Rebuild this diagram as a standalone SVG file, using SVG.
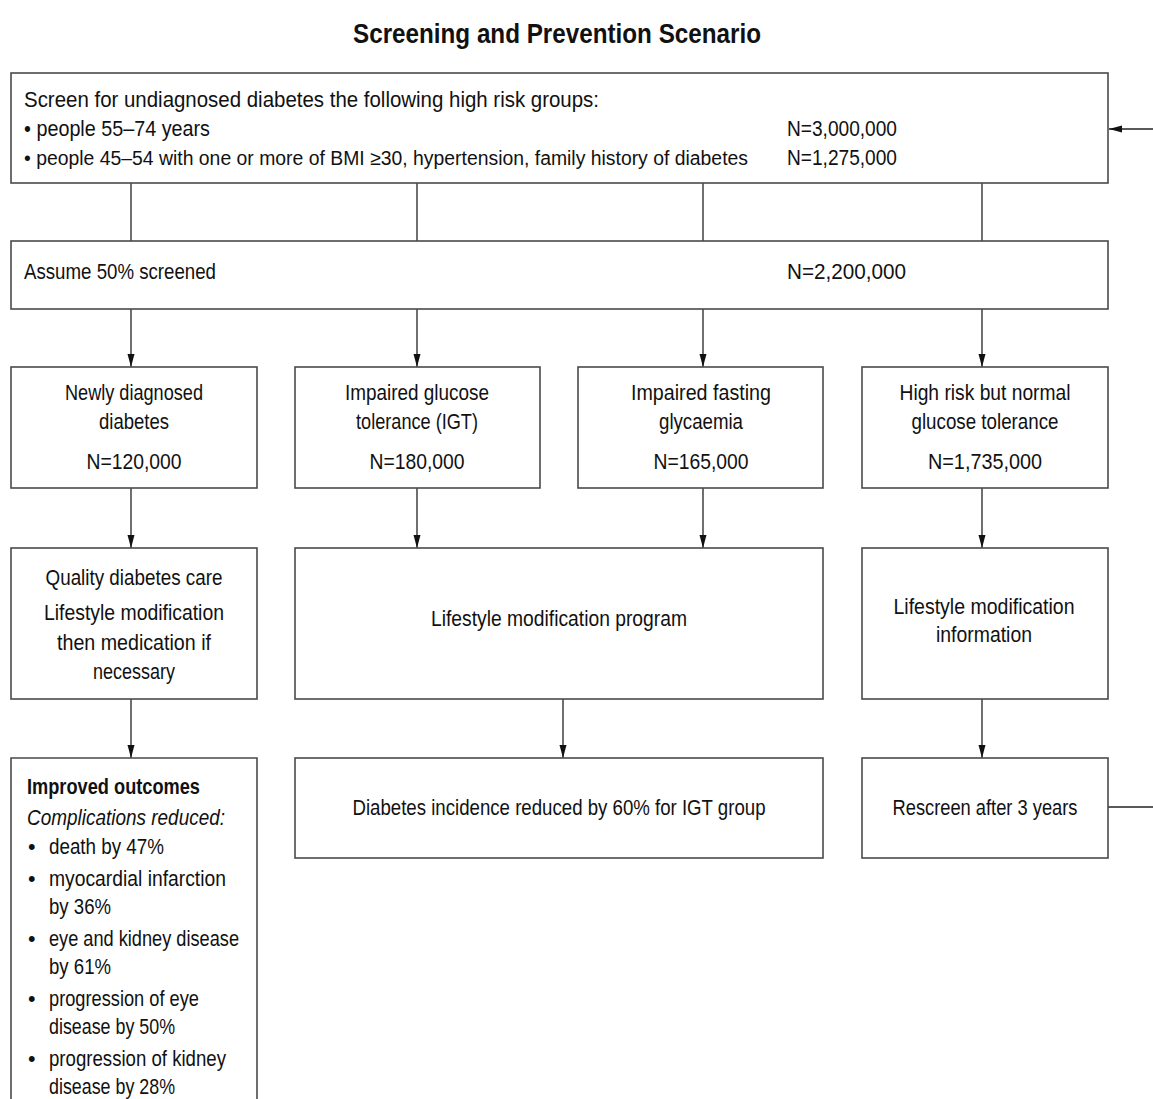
<svg xmlns="http://www.w3.org/2000/svg" width="1153" height="1099" viewBox="0 0 1153 1099">
<defs>
<marker id="ah" markerWidth="13" markerHeight="8" refX="13" refY="4" orient="auto" markerUnits="userSpaceOnUse">
<path d="M0,0.5 L13,4 L0,7.5 Z" fill="#111"/>
</marker>
<style>
.box{fill:#fff;stroke:#4a4a4a;stroke-width:1.6}
.ln{fill:none;stroke:#222;stroke-width:1.3}
.ar{fill:none;stroke:#222;stroke-width:1.3;marker-end:url(#ah)}
text{font-family:"Liberation Sans Narrow","Liberation Sans",Arial,sans-serif;font-size:21.5px;fill:#111}
.c{text-anchor:middle}
.b{font-weight:bold}
.i{font-style:italic}
.s{font-size:20px}
.t{font-size:28px;font-weight:bold}
</style>
</defs>
<rect width="1153" height="1099" fill="#fff"/>
<text class="t c" x="557" y="43" textLength="408" lengthAdjust="spacingAndGlyphs">Screening and Prevention Scenario</text>

<g id="connectors">
<line class="ln" x1="131" y1="183" x2="131" y2="241"/>
<line class="ln" x1="417" y1="183" x2="417" y2="241"/>
<line class="ln" x1="703" y1="183" x2="703" y2="241"/>
<line class="ln" x1="982" y1="183" x2="982" y2="241"/>
<line class="ar" x1="131" y1="309" x2="131" y2="367"/>
<line class="ar" x1="417" y1="309" x2="417" y2="367"/>
<line class="ar" x1="703" y1="309" x2="703" y2="367"/>
<line class="ar" x1="982" y1="309" x2="982" y2="367"/>
<line class="ar" x1="131" y1="488" x2="131" y2="548"/>
<line class="ar" x1="417" y1="488" x2="417" y2="548"/>
<line class="ar" x1="703" y1="488" x2="703" y2="548"/>
<line class="ar" x1="982" y1="488" x2="982" y2="548"/>
<line class="ar" x1="131" y1="699" x2="131" y2="758"/>
<line class="ar" x1="563" y1="699" x2="563" y2="758"/>
<line class="ar" x1="982" y1="699" x2="982" y2="758"/>
<line class="ar" x1="1153" y1="129" x2="1109" y2="129"/>
<line class="ln" x1="1108" y1="807" x2="1153" y2="807"/>
</g>

<g id="screen">
<rect class="box" x="11" y="73" width="1097" height="110"/>
<text x="24" y="107" textLength="575" lengthAdjust="spacingAndGlyphs">Screen for undiagnosed diabetes the following high risk groups:</text>
<text x="24" y="136" textLength="186" lengthAdjust="spacingAndGlyphs">• people 55–74 years</text>
<text class="s" x="24" y="165" textLength="724" lengthAdjust="spacingAndGlyphs">• people 45–54 with one or more of BMI  ≥30, hypertension, family history of diabetes</text>
<text x="787" y="136" textLength="110" lengthAdjust="spacingAndGlyphs">N=3,000,000</text>
<text x="787" y="165" textLength="110" lengthAdjust="spacingAndGlyphs">N=1,275,000</text>
</g>

<g id="screened">
<rect class="box" x="11" y="241" width="1097" height="68"/>
<text x="24" y="279" textLength="192" lengthAdjust="spacingAndGlyphs">Assume 50% screened</text>
<text x="787" y="279" textLength="119" lengthAdjust="spacingAndGlyphs">N=2,200,000</text>
</g>

<g id="newly">
<rect class="box" x="11" y="367" width="246" height="121"/>
<text class="c" x="134" y="400" textLength="138" lengthAdjust="spacingAndGlyphs">Newly diagnosed</text>
<text class="c" x="134" y="429" textLength="70" lengthAdjust="spacingAndGlyphs">diabetes</text>
<text class="c" x="134" y="469" textLength="95" lengthAdjust="spacingAndGlyphs">N=120,000</text>
</g>

<g id="igt">
<rect class="box" x="295" y="367" width="245" height="121"/>
<text class="c" x="417" y="400" textLength="144" lengthAdjust="spacingAndGlyphs">Impaired glucose</text>
<text class="c" x="417" y="429" textLength="122" lengthAdjust="spacingAndGlyphs">tolerance (IGT)</text>
<text class="c" x="417" y="469" textLength="95" lengthAdjust="spacingAndGlyphs">N=180,000</text>
</g>

<g id="ifg">
<rect class="box" x="578" y="367" width="245" height="121"/>
<text class="c" x="701" y="400" textLength="140" lengthAdjust="spacingAndGlyphs">Impaired fasting</text>
<text class="c" x="701" y="429" textLength="84" lengthAdjust="spacingAndGlyphs">glycaemia</text>
<text class="c" x="701" y="469" textLength="95" lengthAdjust="spacingAndGlyphs">N=165,000</text>
</g>

<g id="normal">
<rect class="box" x="862" y="367" width="246" height="121"/>
<text class="c" x="985" y="400" textLength="171" lengthAdjust="spacingAndGlyphs">High risk but normal</text>
<text class="c" x="985" y="429" textLength="147" lengthAdjust="spacingAndGlyphs">glucose tolerance</text>
<text class="c" x="985" y="469" textLength="114" lengthAdjust="spacingAndGlyphs">N=1,735,000</text>
</g>

<g id="care">
<rect class="box" x="11" y="548" width="246" height="151"/>
<text class="c" x="134" y="585" textLength="177" lengthAdjust="spacingAndGlyphs">Quality diabetes care</text>
<text class="c" x="134" y="620" textLength="180" lengthAdjust="spacingAndGlyphs">Lifestyle modification</text>
<text class="c" x="134" y="650" textLength="154" lengthAdjust="spacingAndGlyphs">then medication if</text>
<text class="c" x="134" y="679" textLength="82" lengthAdjust="spacingAndGlyphs">necessary</text>
</g>

<g id="program">
<rect class="box" x="295" y="548" width="528" height="151"/>
<text class="c" x="559" y="626" textLength="256" lengthAdjust="spacingAndGlyphs">Lifestyle modification program</text>
</g>

<g id="info">
<rect class="box" x="862" y="548" width="246" height="151"/>
<text class="c" x="984" y="614" textLength="181" lengthAdjust="spacingAndGlyphs">Lifestyle modification</text>
<text class="c" x="984" y="642" textLength="96" lengthAdjust="spacingAndGlyphs">information</text>
</g>

<g id="outcomes">
<path class="box" d="M11,1101 V758 H257 V1101"/>
<text class="b" x="27" y="794" textLength="173" lengthAdjust="spacingAndGlyphs">Improved outcomes</text>
<text class="i" x="27" y="825" textLength="198" lengthAdjust="spacingAndGlyphs">Complications reduced:</text>
<text x="28" y="854">•</text><text x="49" y="854" textLength="115" lengthAdjust="spacingAndGlyphs">death by 47%</text>
<text x="28" y="886">•</text><text x="49" y="886" textLength="177" lengthAdjust="spacingAndGlyphs">myocardial infarction</text>
<text x="49" y="914" textLength="62" lengthAdjust="spacingAndGlyphs">by 36%</text>
<text x="28" y="946">•</text><text x="49" y="946" textLength="190" lengthAdjust="spacingAndGlyphs">eye and kidney disease</text>
<text x="49" y="974" textLength="62" lengthAdjust="spacingAndGlyphs">by 61%</text>
<text x="28" y="1006">•</text><text x="49" y="1006" textLength="150" lengthAdjust="spacingAndGlyphs">progression of eye</text>
<text x="49" y="1034" textLength="126" lengthAdjust="spacingAndGlyphs">disease by 50%</text>
<text x="28" y="1066">•</text><text x="49" y="1066" textLength="177" lengthAdjust="spacingAndGlyphs">progression of kidney</text>
<text x="49" y="1094" textLength="126" lengthAdjust="spacingAndGlyphs">disease by 28%</text>
</g>

<g id="incidence">
<rect class="box" x="295" y="758" width="528" height="100"/>
<text class="c" x="559" y="815" textLength="413" lengthAdjust="spacingAndGlyphs">Diabetes incidence reduced by 60% for IGT group</text>
</g>

<g id="rescreen">
<rect class="box" x="862" y="758" width="246" height="100"/>
<text class="c" x="985" y="815" textLength="185" lengthAdjust="spacingAndGlyphs">Rescreen after 3 years</text>
</g>
</svg>
